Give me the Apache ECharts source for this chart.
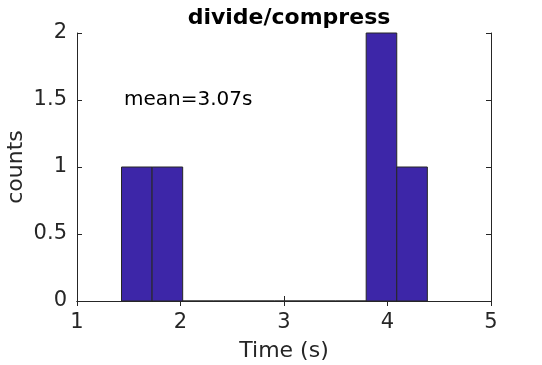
<!DOCTYPE html>
<html><head><meta charset="utf-8">
<script src="https://cdn.jsdelivr.net/npm/echarts@6/dist/echarts.min.js"></script>
<style>html,body{margin:0;padding:0;background:#fff}#c{width:542px;height:365px}</style>
</head><body><div id="c"></div>
<script>
var binEdges = [1.43, 1.7255, 2.021, 2.3165, 2.612, 2.9075, 3.203, 3.4985, 3.794, 4.0895, 4.385];
var counts = [1, 1, 0, 0, 0, 0, 0, 0, 2, 1];
var xTicks = [1, 2, 3, 4, 5];
var yTicks = [0, 0.5, 1, 1.5, 2];
var titleText = 'divide/compress';
var meanText = 'mean=3.07s';

var data = counts.map(function (c, i) { return [binEdges[i], binEdges[i + 1], c]; });
var font = 'DejaVu Sans';
var ink = '#262626';
var chart = echarts.init(document.getElementById('c'));
function axisCommon() {
  return {
    axisLine: { show: true, lineStyle: { color: ink, width: 1 } },
    axisTick: { show: true, inside: true, length: 5, lineStyle: { color: ink } },
    splitLine: { show: false }
  };
}
chart.setOption({
  animation: false,
  title: { text: titleText, left: 284, top: 2, textAlign: 'center',
    textStyle: { fontFamily: font, fontSize: 22, fontWeight: 'bold', color: '#000' } },
  grid: { left: 77, right: 51, top: 33, bottom: 64, containLabel: false, outerBoundsMode: 'none' },
  xAxis: [Object.assign({ type: 'value', min: 1, max: 5, interval: 1, position: 'bottom',
    name: 'Time (s)', nameLocation: 'middle', nameGap: 39, nameMoveOverlap: false,
    nameTextStyle: { fontFamily: font, fontSize: 22, color: ink },
    axisLabel: { fontFamily: font, fontSize: 21, color: ink, margin: 11 } }, axisCommon()),
    Object.assign({ type: 'value', min: 1, max: 5, interval: 1, position: 'top',
    axisLabel: { show: false } }, axisCommon())],
  yAxis: [Object.assign({ type: 'value', min: 0, max: 2, interval: 0.5, position: 'left',
    name: 'counts', nameLocation: 'middle', nameGap: 50, nameRotate: 90, nameMoveOverlap: false,
    nameTextStyle: { fontFamily: font, fontSize: 22, color: ink },
    axisLabel: { fontFamily: font, fontSize: 21, color: ink, margin: 10,
      formatter: function (v) { return String(v); } } }, axisCommon()),
    Object.assign({ type: 'value', min: 0, max: 2, interval: 0.5, position: 'right',
    axisLabel: { show: false } }, axisCommon())],
  graphic: [{ type: 'text', left: 124, top: 90,
    style: { text: meanText, font: '20px "DejaVu Sans"', fill: '#000' } }],
  series: [{
    type: 'custom', xAxisIndex: 0, yAxisIndex: 0, data: data, clip: false,
    renderItem: function (params, api) {
      var p0 = api.coord([api.value(0), api.value(2)]);
      var p1 = api.coord([api.value(1), 0]);
      return { type: 'rect',
        shape: { x: p0[0], y: p0[1], width: p1[0] - p0[0], height: p1[1] - p0[1] },
        style: { fill: '#3d26a8', stroke: ink, lineWidth: 1 } };
    }
  }]
});
</script></body></html>
